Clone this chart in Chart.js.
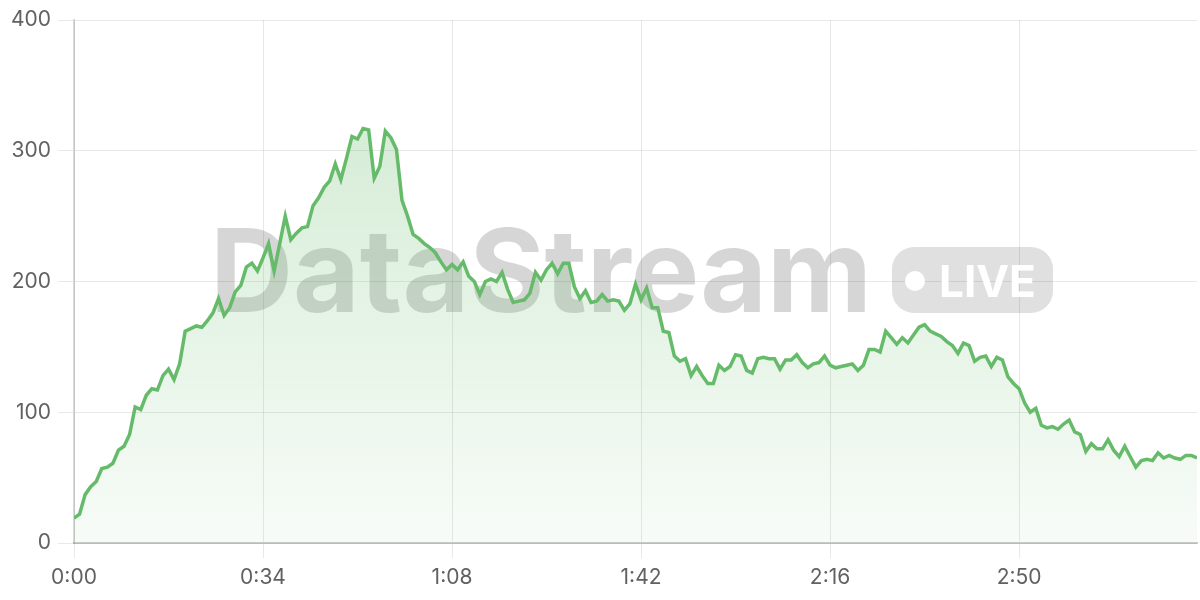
<!DOCTYPE html>
<html>
<head>
<meta charset="utf-8">
<script src="https://cdn.jsdelivr.net/npm/chart.js@4/dist/chart.umd.min.js"></script>
<style>
  html, body { margin: 0; padding: 0; background: #ffffff; }
  #wrap { width: 1200px; height: 600px; position: relative; }
</style>
</head>
<body>
<div id="wrap"><canvas id="c" width="1200" height="600"></canvas></div>
<script>
// ---- data ----
const values = [
  19, 22, 37, 43, 47, 57, 58, 61, 71, 74,
  83, 104, 102, 113, 118, 117, 128, 133, 125, 137,
  162, 164, 166, 165, 170, 176, 187, 174, 180, 192,
  197, 211, 214, 208, 218, 229, 208, 229, 250, 232,
  237, 241, 242, 258, 264, 272, 277, 290, 278, 294,
  311, 309, 317, 316, 279, 288, 315, 310, 301, 262,
  250, 236, 233, 229, 226, 222, 215, 209, 213, 209,
  215, 204, 200, 190, 200, 202, 200, 207, 194, 184,
  185, 186, 191, 207, 201, 209, 214, 206, 214, 214,
  196, 187, 193, 184, 185, 190, 185, 186, 185, 178,
  183, 198, 186, 195, 180, 180, 162, 161, 143, 139,
  141, 128, 135, 128, 122, 122, 136, 132, 135, 144,
  143, 132, 130, 141, 142, 141, 141, 133, 140, 140,
  144, 138, 134, 137, 138, 143, 136, 134, 135, 136,
  137, 132, 136, 148, 148, 146, 162, 157, 152, 157,
  153, 159, 165, 167, 162, 160, 158, 154, 151, 145,
  153, 151, 139, 142, 143, 135, 142, 140, 127, 122,
  118, 107, 100, 103, 90, 88, 89, 87, 91, 94,
  85, 83, 70, 76, 72, 72, 79, 71, 66, 74,
  66, 58, 63, 64, 63, 69, 65, 67, 65, 64,
  67, 67, 65
];
const seconds = values.map((v, i) => i);          // one sample per second
const xTickStep = 34;                              // 0:00, 0:34, 1:08 ...
const yTicks = [0, 100, 200, 300, 400];
const watermarkText = 'DataStream';
const badgeText = 'LIVE';

function fmtTime(s) {
  const m = Math.floor(s / 60);
  const r = Math.round(s % 60);
  return m + ':' + String(r).padStart(2, '0');
}

const FONT = 'Inter, "Noto Sans", "DejaVu Sans", sans-serif';
const GREEN = '#66bb6a';

const watermark = {
  id: 'watermark',
  beforeDatasetsDraw(chart) {
    const ctx = chart.ctx;
    const a = chart.chartArea;
    ctx.save();
    const baseY = a.top + 292;
    ctx.font = 'bold 115px ' + FONT;
    ctx.textBaseline = 'alphabetic';
    ctx.textAlign = 'left';
    ctx.fillStyle = 'rgba(0,0,0,0.16)';
    ctx.fillText(watermarkText, a.left + 136, baseY);
    // badge
    const bx = a.left + 818, by = a.top + 227, bw = 161, bh = 66, r = 22;
    ctx.fillStyle = 'rgba(0,0,0,0.12)';
    ctx.beginPath();
    ctx.roundRect(bx, by, bw, bh, r);
    ctx.fill();
    ctx.fillStyle = '#ffffff';
    ctx.beginPath();
    ctx.arc(bx + 23, by + 34, 10, 0, Math.PI * 2);
    ctx.fill();
    ctx.font = 'bold 44px ' + FONT;
    ctx.fillText(badgeText, bx + 47, by + 50);
    ctx.restore();
  }
};

const ctx = document.getElementById('c').getContext('2d');
const chart = new Chart(ctx, {
  type: 'line',
  data: {
    labels: seconds,
    datasets: [{
      data: values,
      borderColor: GREEN,
      borderWidth: 3.5,
      pointRadius: 0,
      pointHoverRadius: 0,
      tension: 0,
      fill: 'origin',
      backgroundColor(context) {
        const c = context.chart;
        const a = c.chartArea;
        if (!a) return 'rgba(102,187,106,0.15)';
        const g = c.ctx.createLinearGradient(0, a.top, 0, a.bottom);
        g.addColorStop(0, 'rgba(102,187,106,0.32)');
        g.addColorStop(1, 'rgba(102,187,106,0.05)');
        return g;
      }
    }]
  },
  options: {
    responsive: false,
    animation: false,
    events: [],
    layout: { padding: { top: 20, right: 3, left: 0, bottom: 0 } },
    plugins: { legend: { display: false }, tooltip: { enabled: false } },
    scales: {
      x: {
        type: 'linear',
        min: 0,
        max: seconds[seconds.length - 1],
        grid: { color: 'rgba(0,0,0,0.09)', lineWidth: 1, tickLength: 15 },
        border: { color: 'rgba(0,0,0,0.2)', width: 2 },
        ticks: {
          stepSize: xTickStep,
          includeBounds: false,
          maxRotation: 0,
          padding: 7,
          color: '#616161',
          font: { family: FONT, size: 21 },
          callback: (v) => fmtTime(v)
        },
        afterFit(scale) { scale.height = 57; }
      },
      y: {
        min: yTicks[0],
        max: yTicks[yTicks.length - 1],
        grid: { color: 'rgba(0,0,0,0.09)', lineWidth: 1, tickLength: 16 },
        border: { color: 'rgba(0,0,0,0.15)', width: 2 },
        ticks: {
          stepSize: 100,
          padding: 7,
          color: '#616161',
          font: { family: FONT, size: 21 }
        },
        afterFit(scale) { scale.width = 74; }
      }
    }
  },
  plugins: [watermark]
});
</script>
</body>
</html>
